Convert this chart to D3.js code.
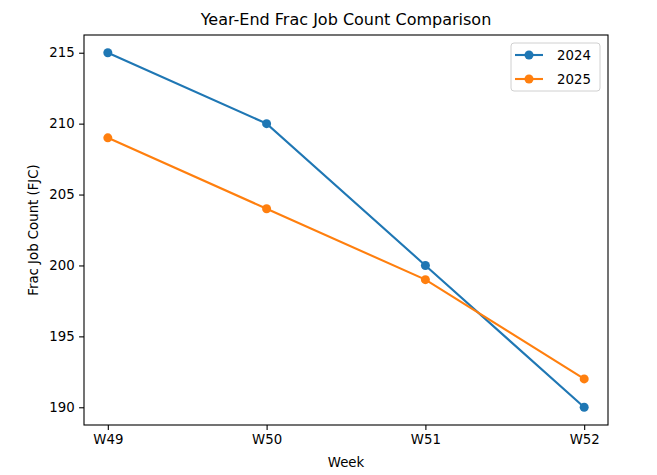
<!DOCTYPE html>
<html><head><meta charset="utf-8">
<script src="https://cdn.jsdelivr.net/npm/d3@7"></script>
<style>body{margin:0;background:#fff}svg{display:block}text{font-family:"DejaVu Sans",sans-serif;fill:#000}</style>
</head><body>
<svg id="c" width="657" height="475"></svg>
<script>
const weeks = ["W49","W50","W51","W52"];
const values2024 = [215,210,200,190];
const values2025 = [209,204,199,192];
const seriesNames = ["2024","2025"];
const colors = ["#1f77b4","#ff7f0e"];
const yTicks = [190,195,200,205,210,215];

const svg = d3.select("#c");
const m = {l:84, r:608, t:35, b:425};
const x = d3.scaleLinear().domain([-0.15, 3.15]).range([m.l, m.r]);
const y = d3.scaleLinear().domain([188.75, 216.25]).range([m.b, m.t]);

// axes
const xa = svg.append("g").attr("transform",`translate(0,${m.b})`)
  .call(d3.axisBottom(x).tickValues([0,1,2,3]).tickFormat(i=>weeks[i]).tickSizeOuter(0).tickSize(4.9).tickPadding(4.5));
const ya = svg.append("g").attr("transform",`translate(${m.l},0)`)
  .call(d3.axisLeft(y).tickValues(yTicks).tickSizeOuter(0).tickSize(4.9).tickPadding(4.5));
[xa,ya].forEach(a=>{a.select(".domain").remove();a.selectAll("text").style("font-size","13.3px").attr("fill","#000");a.selectAll("line").attr("stroke","#000").attr("stroke-width",1.1);});

const series = [values2024, values2025];
const line = d3.line().x((d,i)=>x(i)).y(d=>y(d));
series.forEach((vals,k)=>{
  svg.append("path").datum(vals).attr("d",line).attr("fill","none").attr("stroke",colors[k]).attr("stroke-width",2.1);
  svg.append("g").selectAll("circle").data(vals).join("circle")
    .attr("cx",(d,i)=>x(i)).attr("cy",d=>y(d)).attr("r",4.5).attr("fill",colors[k]);
});

svg.append("rect").attr("x",m.l).attr("y",m.t).attr("width",m.r-m.l).attr("height",m.b-m.t)
  .attr("fill","none").attr("stroke","#000").attr("stroke-width",1.1);

svg.append("text").attr("x",(m.l+m.r)/2).attr("y",25).attr("text-anchor","middle").style("font-size","16px").text("Year-End Frac Job Count Comparison");
svg.append("text").attr("x",(m.l+m.r)/2).attr("y",467).attr("text-anchor","middle").style("font-size","13.3px").text("Week");
svg.append("text").attr("transform",`translate(38,${(m.t+m.b)/2}) rotate(-90)`).attr("text-anchor","middle").style("font-size","13.3px").text("Frac Job Count (FJC)");

// legend
const lg = svg.append("g");
lg.append("rect").attr("x",511).attr("y",43).attr("width",89).attr("height",48).attr("rx",3)
  .attr("fill","#fff").attr("fill-opacity",0.8).attr("stroke","#d0d0d0");
seriesNames.forEach((n,k)=>{
  const yy = 55 + k*24;
  lg.append("line").attr("x1",515).attr("x2",543).attr("y1",yy).attr("y2",yy).attr("stroke",colors[k]).attr("stroke-width",2.1);
  lg.append("circle").attr("cx",529).attr("cy",yy).attr("r",4.5).attr("fill",colors[k]);
  lg.append("text").attr("x",557).attr("y",yy+5).style("font-size","13.3px").text(n);
});
</script>
</body></html>
